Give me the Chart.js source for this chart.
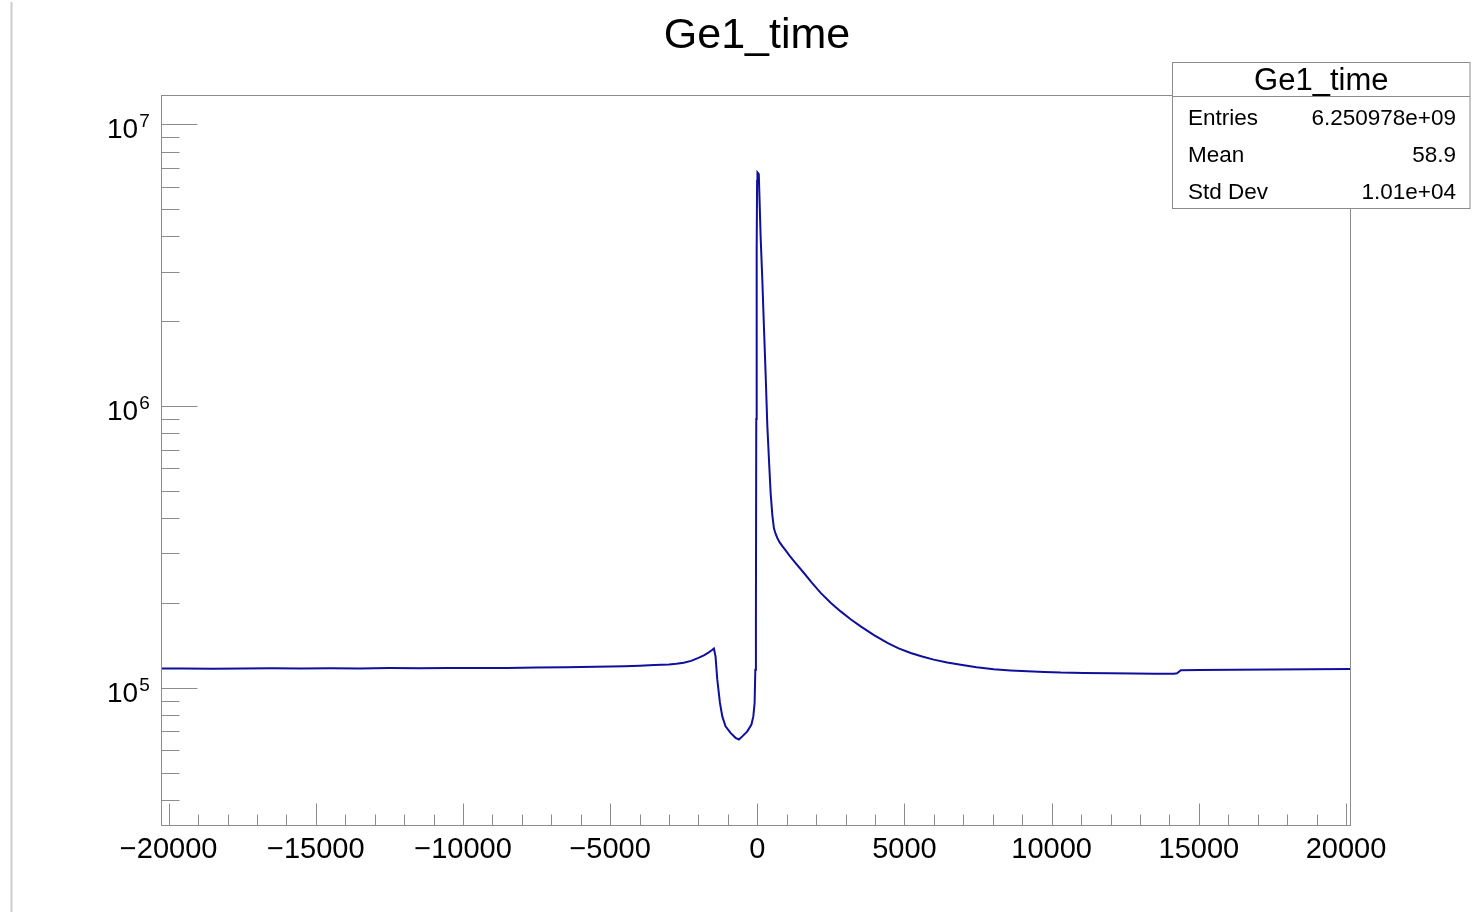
<!DOCTYPE html>
<html>
<head>
<meta charset="utf-8">
<title>Ge1_time</title>
<script src="https://cdn.jsdelivr.net/npm/chart.js@4.4.1/dist/chart.umd.min.js"></script>
<style>
  html, body { margin: 0; padding: 0; background: #ffffff; }
  #wrap { position: relative; width: 1483px; height: 912px; }
  canvas { display: block; }
</style>
</head>
<body>
<div id="wrap"><canvas id="c" width="1483" height="912"></canvas></div>
<script>
// Histogram: time difference spectrum for Ge1
const histTitle = 'Ge1_time';

// bin centres (time units) and counts per bin
const binCenters = [
  -20250, -19500, -18500, -17500, -16500, -15500, -14500, -13500, -12500, -11500,
  -10500, -9500, -8500, -7500, -6500, -5500, -5000, -4500, -4000, -3500,
  -3000, -2750, -2500, -2250, -2000, -1800, -1650, -1550, -1475, -1420,
  -1360, -1270, -1190, -1080, -910, -740, -625, -510, -340, -200,
  -136, -92, -68, -48, -36, -22, -8, 5, 50, 112,
  170, 224, 285, 340, 400, 452, 510, 564, 620, 680,
  760, 850, 962, 1100, 1300, 1584, 1850, 2152, 2500, 2831,
  3170, 3511, 3950, 4419, 4800, 5211, 5600, 5993, 6450, 6910,
  7450, 8032, 8600, 9177, 9750, 10309, 11091, 12000, 12791, 13500,
  14150, 14260, 14388, 15000, 16190, 17500, 18800, 20160
];
const binCounts = [
  116900, 117100, 116800, 117000, 117200, 117000, 117300, 117100, 117400, 117300,
  117500, 117400, 117600, 117900, 118200, 118600, 118900, 119300, 119700, 120300,
  121000, 121600, 122700, 124500, 127600, 130500, 133500, 135800, 137800, 129200,
  106800, 88300, 79100, 73000, 69100, 66400, 65500, 67200, 70000, 74000,
  79100, 88300, 115900, 174400, 900000, 3600000, 6300000, 6740000, 6650000, 4000000,
  2800000, 1920000, 1270000, 850000, 630000, 491000, 410000, 368000, 352000, 340000,
  328000, 318000, 307000, 294000, 277000, 255400, 236000, 217000, 200000, 186600,
  175000, 165100, 154000, 144200, 138000, 132800, 129000, 125800, 123000, 120700,
  118300, 116200, 115200, 114400, 113800, 113200, 112900, 112500, 112300, 112200,
  112100, 112600, 115300, 115500, 115900, 116100, 116400, 116600
];

// axis ranges and tick values
const xRange = [-20260, 20170];
const yRange = [32300, 12700000];
const xMajorTicks = [-20000, -15000, -10000, -5000, 0, 5000, 10000, 15000, 20000];
const xMinorStep = 1000;
const yDecades = [100000, 1000000, 10000000];

// statistics box
const statTitle = 'Ge1_time';
const statLabels = ['Entries', 'Mean', 'Std Dev'];
const statValues = ['6.250978e+09', '58.9', '1.01e+04'];

const FONT = '"Liberation Sans", Arial, Helvetica, sans-serif';
const FRAME = '#8c8c8c';
const LINE = '#0f0f9c';

function fmtX(v) {
  return v < 0 ? '\u2212' + Math.abs(v) : String(v);
}

const rootFrame = {
  id: 'rootFrame',
  afterDraw(chart) {
    const { ctx, chartArea: a, scales } = chart;
    const xs = scales.x, ys = scales.y;
    ctx.save();

    // canvas edge line on the left
    ctx.strokeStyle = '#cdcdcd';
    ctx.lineWidth = 2;
    ctx.beginPath();
    ctx.moveTo(11.5, 2);
    ctx.lineTo(11.5, 912);
    ctx.stroke();

    // plot frame
    ctx.strokeStyle = FRAME;
    ctx.lineWidth = 1;
    const L = Math.round(a.left) + 0.5, R = Math.round(a.right) - 0.5;
    const T = Math.round(a.top) + 0.5, B = Math.round(a.bottom) - 0.5;
    ctx.strokeRect(L, T, R - L, B - T);

    // x ticks (inside the frame, from the bottom edge)
    ctx.beginPath();
    for (let v = xMajorTicks[0]; v <= xMajorTicks[xMajorTicks.length - 1]; v += xMinorStep) {
      const px = Math.round(xs.getPixelForValue(v)) + 0.5;
      const len = xMajorTicks.includes(v) ? 22 : 11;
      ctx.moveTo(px, B);
      ctx.lineTo(px, B - len);
    }
    ctx.stroke();

    // y ticks (log decades with 2..9 subdivisions)
    ctx.beginPath();
    const firstDecade = yDecades[0] / 10;
    for (let d = firstDecade; d <= yDecades[yDecades.length - 1]; d *= 10) {
      for (let m = 1; m <= 9; m++) {
        const v = d * m;
        if (v < yRange[0] || v > yRange[1]) continue;
        const py = Math.round(ys.getPixelForValue(v)) + 0.5;
        const len = m === 1 ? 36 : 18;
        ctx.moveTo(L, py);
        ctx.lineTo(L + len, py);
      }
    }
    ctx.stroke();

    // x tick labels
    ctx.fillStyle = '#000000';
    ctx.font = '29px ' + FONT;
    ctx.textAlign = 'center';
    ctx.textBaseline = 'alphabetic';
    xMajorTicks.forEach(v => {
      ctx.fillText(fmtX(v), xs.getPixelForValue(v), 858);
    });

    // y tick labels: 10 with exponent
    yDecades.forEach(v => {
      const py = ys.getPixelForValue(v);
      const exp = String(Math.round(Math.log10(v)));
      ctx.textAlign = 'left';
      ctx.font = '28px ' + FONT;
      const w10 = ctx.measureText('10').width;
      ctx.fillText('10', 107, py + 14);
      ctx.font = '19px ' + FONT;
      ctx.fillText(exp, 107 + w10 + 1, py + 3);
    });

    // title
    ctx.font = '43px ' + FONT;
    ctx.textAlign = 'center';
    ctx.fillText(histTitle, 757, 48);

    // statistics box
    const bx = 1172.5, by = 62.5, bw = 297.5, bh = 146;
    ctx.fillStyle = '#ffffff';
    ctx.fillRect(bx, by, bw, bh);
    ctx.strokeStyle = FRAME;
    ctx.lineWidth = 1;
    ctx.strokeRect(bx, by, bw, bh);
    ctx.beginPath();
    ctx.moveTo(bx, 96.5);
    ctx.lineTo(bx + bw, 96.5);
    ctx.stroke();
    ctx.fillStyle = '#000000';
    ctx.font = '31px ' + FONT;
    ctx.textAlign = 'center';
    ctx.fillText(statTitle, bx + bw / 2, 90);
    ctx.font = '22.5px ' + FONT;
    const rowBase = [125, 162, 199];
    statLabels.forEach((lab, i) => {
      ctx.textAlign = 'left';
      ctx.fillText(lab, 1188, rowBase[i]);
      ctx.textAlign = 'right';
      ctx.fillText(statValues[i], 1456, rowBase[i]);
    });

    ctx.restore();
  }
};

const points = binCenters.map((x, i) => ({ x: x, y: binCounts[i] }));

new Chart(document.getElementById('c'), {
  type: 'line',
  data: {
    datasets: [{
      label: histTitle,
      data: points,
      borderColor: LINE,
      borderWidth: 2,
      pointRadius: 0,
      tension: 0,
      fill: false
    }]
  },
  options: {
    responsive: false,
    animation: false,
    devicePixelRatio: 1,
    layout: { padding: { left: 161, right: 132, top: 95, bottom: 86 } },
    plugins: { legend: { display: false }, title: { display: false }, tooltip: { enabled: false } },
    scales: {
      x: { type: 'linear', min: xRange[0], max: xRange[1], display: false },
      y: { type: 'logarithmic', min: yRange[0], max: yRange[1], display: false }
    }
  },
  plugins: [rootFrame]
});
</script>
</body>
</html>
